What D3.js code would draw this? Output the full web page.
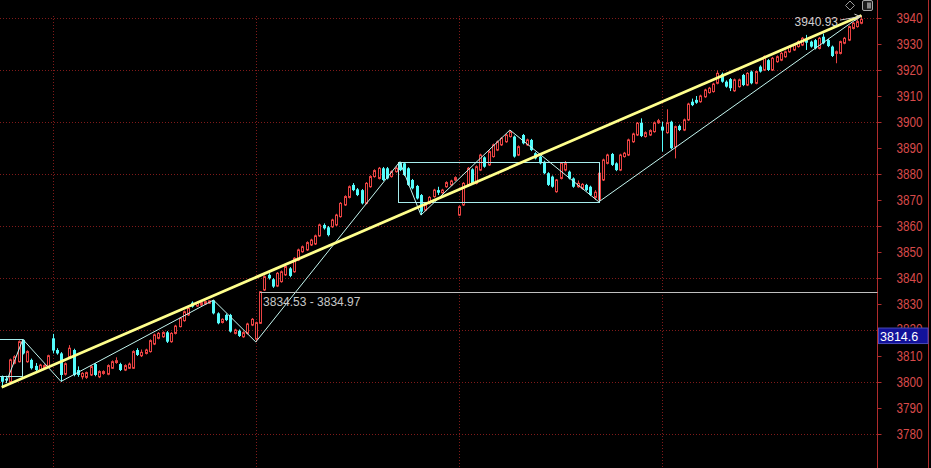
<!DOCTYPE html>
<html>
<head>
<meta charset="utf-8">
<title>K-line 3940.93</title>
<script src="https://cdn.jsdelivr.net/npm/d3@7"></script>
<style>
  html,body {margin:0; padding:0; background:#000;}
  svg {display:block;}
  .ax text {font-family:'Liberation Sans Narrow','Liberation Sans',Arial,sans-serif; font-size:14px; fill:#d84a4a;}
  .lbl {font-family:'Liberation Sans',Arial,sans-serif; font-size:12px;}
</style>
</head>
<body>
<svg id="chart" width="931" height="468"></svg>
<script>
// bars, one entry per candle
const open=[3802.0,3801.2,3800.1,3807.2,3807.8,3816.2,3807.8,3808.5,3806.2,3804.6,
3805.5,3805.9,3816.8,3812.3,3811.0,3803.0,3809.7,3812.3,3804.6,3802.0,
3801.8,3802.7,3806.9,3802.0,3803.3,3803.0,3805.3,3807.5,3806.9,3804.6,
3805.3,3805.3,3812.3,3810.1,3811.0,3811.7,3814.6,3816.8,3817.4,3819.1,
3815.5,3818.7,3821.3,3823.6,3825.8,3830.5,3829.2,3829.6,3830.0,3830.3,
3831.4,3826.4,3822.9,3825.8,3825.8,3818.7,3819.7,3817.4,3818.7,3821.9,
3816.5,3822.6,3835.4,3841.2,3839.5,3836.9,3838.6,3841.2,3843.7,3842.4,
3846.9,3850.1,3850.8,3852.7,3853.1,3856.2,3860.4,3859.5,3859.7,3860.4,
3863.6,3868.1,3871.0,3875.8,3874.1,3873.8,3868.7,3875.1,3879.0,3878.3,
3882.2,3882.2,3879.0,3880.9,3884.4,3884.1,3882.2,3877.7,3875.4,3871.9,
3866.1,3868.7,3871.3,3873.8,3872.8,3875.1,3875.8,3877.7,3864.2,3868.1,
3875.8,3881.8,3876.4,3881.5,3886.4,3883.5,3886.7,3889.2,3891.2,3892.4,
3894.4,3894.4,3887.3,3895.0,3891.2,3893.1,3888.0,3886.7,3884.7,3880.3,
3879.0,3873.2,3878.3,3881.5,3880.9,3878.3,3875.1,3874.5,3875.8,3875.1,
3871.0,3870.0,3877.7,3884.1,3887.7,3884.1,3881.5,3886.7,3887.3,3892.4,
3895.0,3899.7,3894.4,3895.0,3896.3,3899.7,3898.2,3895.9,3900.1,3890.5,
3898.5,3896.9,3900.8,3907.8,3908.5,3907.8,3909.7,3911.3,3911.7,3914.9,
3918.5,3915.5,3916.5,3912.0,3913.6,3918.1,3914.2,3919.4,3914.9,3921.3,
3920.0,3923.8,3920.0,3923.2,3923.8,3925.1,3927.0,3927.7,3929.0,3929.6,
3931.5,3930.9,3931.5,3928.3,3932.8,3931.5,3929.0,3926.4,3926.4,3930.3,
3931.5,3936.0,3936.7,3938.0];
const high=[3802.5,3802.4,3809.0,3810.3,3816.0,3816.4,3812.2,3809.0,3807.3,3807.0,
3806.8,3810.5,3818.5,3813.0,3811.5,3807.5,3814.2,3812.8,3806.0,3803.8,
3804.0,3806.4,3807.3,3804.5,3804.5,3806.8,3808.3,3809.5,3807.4,3806.8,
3807.5,3812.2,3813.0,3812.5,3812.8,3816.4,3818.6,3819.2,3819.5,3819.6,
3819.2,3822.0,3825.0,3827.5,3828.8,3831.0,3831.0,3831.0,3831.3,3831.4,
3831.5,3826.8,3824.5,3826.3,3826.2,3820.5,3820.2,3819.5,3822.8,3824.6,
3823.2,3835.0,3841.0,3841.8,3840.0,3842.3,3842.9,3844.9,3844.2,3848.0,
3851.3,3852.5,3854.1,3855.1,3856.7,3860.9,3861.0,3860.0,3862.8,3864.7,
3869.2,3871.8,3875.6,3876.5,3874.6,3874.2,3876.9,3879.5,3881.8,3882.7,
3882.7,3882.7,3881.4,3883.0,3884.7,3884.5,3882.6,3878.1,3875.8,3872.3,
3868.6,3871.5,3874.3,3875.1,3874.3,3877.2,3877.8,3879.1,3867.9,3876.9,
3882.7,3882.2,3883.3,3887.8,3886.8,3889.1,3891.7,3892.9,3894.2,3895.5,
3896.9,3894.8,3891.0,3895.4,3893.6,3893.5,3888.4,3887.1,3885.1,3880.7,
3879.4,3878.1,3884.6,3885.0,3881.3,3878.7,3877.5,3876.5,3876.2,3875.5,
3873.8,3880.8,3885.9,3887.8,3888.1,3884.5,3887.8,3888.5,3893.6,3895.9,
3900.0,3901.4,3896.4,3897.2,3900.2,3901.2,3900.1,3904.9,3900.5,3898.6,
3899.0,3901.3,3907.4,3909.0,3910.0,3910.5,3912.8,3913.5,3915.1,3919.8,
3919.0,3916.0,3916.9,3916.7,3916.7,3918.5,3919.2,3919.8,3919.8,3921.8,
3925.6,3924.2,3925.0,3925.6,3926.9,3927.5,3929.5,3930.1,3931.4,3932.7,
3933.5,3931.3,3931.9,3932.7,3934.0,3932.0,3929.4,3927.5,3931.3,3932.7,
3937.1,3938.4,3939.5,3940.93];
const low=[3798.0,3799.6,3799.8,3806.8,3807.5,3810.6,3807.4,3804.8,3803.5,3804.2,
3805.0,3805.5,3811.0,3810.5,3800.2,3802.5,3809.3,3802.2,3802.0,3801.0,
3801.2,3802.3,3802.2,3801.5,3802.8,3802.6,3805.0,3807.0,3804.2,3804.2,
3805.0,3805.0,3810.0,3809.6,3810.6,3811.3,3814.2,3816.4,3817.0,3815.0,
3815.1,3818.3,3821.0,3823.2,3825.4,3828.6,3828.8,3829.2,3829.6,3830.0,
3826.0,3822.2,3822.5,3823.4,3819.0,3818.3,3817.3,3817.0,3818.3,3821.5,
3815.4,3822.3,3835.0,3839.4,3836.2,3836.5,3838.2,3840.8,3840.3,3842.0,
3846.5,3849.7,3850.4,3852.3,3852.7,3855.8,3858.6,3856.0,3859.3,3860.0,
3863.2,3867.7,3870.6,3873.4,3871.5,3868.3,3868.3,3874.7,3878.6,3877.9,
3877.3,3877.9,3878.6,3880.5,3881.1,3879.2,3875.4,3874.1,3870.2,3864.2,
3865.7,3868.3,3870.9,3871.9,3872.4,3874.7,3875.4,3877.3,3863.8,3867.7,
3875.4,3876.0,3876.0,3881.1,3882.4,3883.1,3886.3,3888.8,3890.8,3892.0,
3894.0,3886.3,3886.9,3891.4,3890.8,3888.8,3885.6,3883.7,3879.9,3875.4,
3874.7,3872.8,3877.9,3881.0,3877.9,3874.7,3874.7,3874.0,3873.4,3871.5,
3870.0,3869.3,3877.3,3883.7,3883.1,3881.1,3881.1,3886.3,3886.9,3892.0,
3894.6,3894.2,3894.0,3894.6,3895.9,3899.3,3888.6,3895.5,3889.5,3886.0,
3896.5,3896.5,3900.4,3906.1,3907.0,3907.4,3909.3,3910.9,3911.3,3914.5,
3915.1,3913.2,3911.9,3911.6,3913.2,3913.8,3913.8,3914.5,3914.5,3919.0,
3919.6,3919.6,3919.6,3922.8,3923.4,3924.7,3926.6,3927.3,3928.6,3929.2,
3927.7,3928.6,3927.9,3927.9,3929.9,3928.8,3925.0,3922.6,3926.0,3929.9,
3931.1,3935.6,3936.3,3937.6];
const close=[3800.1,3800.6,3808.5,3809.7,3815.5,3811.0,3811.7,3805.3,3804.6,3806.5,
3806.3,3810.1,3812.1,3811.0,3802.7,3807.0,3813.0,3802.7,3802.7,3803.3,
3803.6,3805.9,3802.7,3804.0,3804.0,3806.3,3807.8,3808.2,3804.6,3806.3,
3806.9,3811.7,3810.4,3811.4,3812.3,3815.9,3818.1,3818.7,3819.0,3815.5,
3818.7,3821.5,3824.5,3827.0,3828.3,3829.0,3830.5,3830.5,3830.9,3831.2,
3826.4,3822.6,3824.1,3823.8,3819.4,3820.0,3817.7,3819.0,3822.3,3824.1,
3822.8,3834.7,3840.5,3839.9,3836.7,3841.8,3842.4,3844.4,3840.8,3847.6,
3850.8,3852.0,3853.6,3854.6,3856.2,3860.4,3859.1,3856.5,3862.3,3864.2,
3868.7,3871.3,3875.1,3873.8,3871.9,3868.7,3876.4,3879.0,3881.3,3882.2,
3877.7,3878.3,3880.9,3882.2,3881.5,3879.6,3875.8,3874.5,3870.6,3865.5,
3868.1,3871.0,3873.8,3872.8,3873.8,3876.7,3877.3,3878.6,3867.4,3876.4,
3882.2,3876.4,3882.8,3887.3,3882.8,3888.6,3891.2,3892.4,3893.7,3895.0,
3896.3,3886.7,3890.5,3891.8,3893.1,3889.2,3886.0,3884.1,3880.3,3875.8,
3875.1,3877.7,3884.1,3884.0,3878.3,3875.1,3876.4,3876.0,3873.8,3871.9,
3873.0,3880.3,3885.4,3887.3,3883.5,3881.5,3887.3,3888.0,3893.1,3895.4,
3899.5,3894.6,3895.9,3896.7,3899.7,3900.5,3896.7,3899.7,3889.9,3898.2,
3896.9,3900.8,3906.9,3906.5,3907.4,3910.0,3912.3,3913.0,3914.6,3918.7,
3915.5,3913.6,3913.0,3916.2,3916.2,3914.2,3918.7,3914.9,3919.4,3919.4,
3925.1,3920.0,3924.5,3925.1,3926.4,3927.0,3929.0,3929.6,3930.9,3932.2,
3930.5,3929.0,3928.3,3932.2,3930.3,3929.2,3925.4,3927.0,3930.9,3932.2,
3936.7,3938.0,3938.6,3939.5];

// drawings on the chart: [bar, price]
const zigzag=[[1,3799.6],[5,3816.4],[14,3800.2],[50,3831.5],[60,3815.4],
              [94,3884.7],[99,3864.2],[120,3896.9],[141,3869.3],[203,3940.93]];
const trend=[[0,3798.0],[203,3940.93]];
// boxes: [bar from, bar to, top, bottom]
const boxes=[[-1,4.7,3816.4,3802.4],[93.6,141,3884.7,3869.3]];
const level={bar:61, lo:3834.53, hi:3834.97};
const peakLabel={bar:203, value:3940.93};
const priceTag=3814.6;

const yTicks=[3780,3790,3800,3810,3820,3830,3840,3850,3860,3870,3880,3890,3900,3910,3920,3930,3940];
const gridY=[3780,3800,3820,3840,3860,3880,3900,3920,3940];
const gridBars=[12,60,108,156];

const RED='#ea4343', CYAN='#54fcfc', GRID='#801a1a';
const svg=d3.select('#chart');
const W=931, H=468, axisX=877.5;
const N=close.length;
const x=d3.scaleLinear().domain([0,N-1]).range([1.7,861.4]);
const y=d3.scaleLinear().domain([3780,3940]).range([434,18]);
const px=i=>Math.round(x(i));

svg.append('rect').attr('width',W).attr('height',H).attr('fill','#000');

// dotted grid
svg.append('g').selectAll('line').data(gridY).join('line')
   .attr('x1',0).attr('x2',axisX)
   .attr('y1',d=>Math.round(y(d))+.5).attr('y2',d=>Math.round(y(d))+.5)
   .attr('stroke',GRID).attr('stroke-dasharray','1,2');
svg.append('g').selectAll('line').data(gridBars).join('line')
   .attr('x1',d=>px(d)+.5).attr('x2',d=>px(d)+.5)
   .attr('y1',16).attr('y2',H)
   .attr('stroke',GRID).attr('stroke-dasharray','1,2');

// right price axis
const ty=y(priceTag), tagTop=ty-16;
svg.append('clipPath').attr('id','tagclip')
   .append('rect').attr('x',0).attr('y',0).attr('width',W).attr('height',tagTop);
const ax=svg.append('g').attr('class','ax')
   .attr('transform',`translate(${axisX},0)`)
   .call(d3.axisRight(y).tickValues(yTicks).tickSize(4).tickPadding(15).tickFormat(d3.format('d')));
ax.select('.domain').remove();
ax.selectAll('line').attr('stroke','#b02c2c');
ax.selectAll('text').attr('textLength',26).attr('lengthAdjust','spacingAndGlyphs');
// the label sitting under the price tag only shows its top, as in the source
ax.selectAll('.tick').filter(d=>y(d)>tagTop && y(d)<ty)
  .each(function(d){
    d3.select(this).select('text').remove();
    svg.append('g').attr('clip-path','url(#tagclip)').append('text')
       .attr('x',axisX+19).attr('y',y(d)).attr('dy','0.32em')
       .attr('textLength',26).attr('lengthAdjust','spacingAndGlyphs')
       .style('font-family',"'Liberation Sans Narrow','Liberation Sans',Arial,sans-serif")
       .style('font-size','14px').attr('fill','#d84a4a').text(d);
  });
svg.append('line').attr('x1',axisX).attr('x2',axisX).attr('y1',0).attr('y2',H)
   .attr('stroke','#b02c2c');
svg.append('line').attr('x1',928.5).attr('x2',928.5).attr('y1',0).attr('y2',H)
   .attr('stroke','#b02c2c');

// candles
const bars=d3.range(N).map(i=>({i,o:open[i],h:high[i],l:low[i],c:close[i]}));
const cg=svg.append('g');
cg.selectAll('line').data(bars).join('line')
  .attr('x1',d=>px(d.i)+.5).attr('x2',d=>px(d.i)+.5)
  .attr('y1',d=>y(d.h)).attr('y2',d=>y(d.l))
  .attr('stroke',d=>d.c>=d.o?RED:CYAN);
cg.selectAll('rect').data(bars).join('rect')
  .attr('x',d=>d.c>=d.o?px(d.i)-.5:px(d.i)-1)
  .attr('width',d=>d.c>=d.o?2:3)
  .attr('y',d=>y(Math.max(d.o,d.c)))
  .attr('height',d=>Math.max(1,Math.abs(y(d.o)-y(d.c))))
  .attr('fill',d=>d.c>=d.o?'#000':CYAN)
  .attr('stroke',d=>d.c>=d.o?RED:'none');

// boxes and zigzag
svg.append('g').selectAll('rect').data(boxes).join('rect')
   .attr('x',d=>Math.round(x(d[0]))+.5).attr('y',d=>Math.round(y(d[2]))+.5)
   .attr('width',d=>Math.round(x(d[1]))-Math.round(x(d[0])))
   .attr('height',d=>Math.round(y(d[3]))-Math.round(y(d[2])))
   .attr('fill','none').attr('stroke','#a6ecec');
const line=d3.line().x(d=>x(d[0])).y(d=>y(d[1]));
svg.append('path').datum(zigzag).attr('d',line)
   .attr('fill','none').attr('stroke','#c4f6f0').attr('stroke-width',1);

// support level
const ly=Math.round(y((level.lo+level.hi)/2))+.5;
svg.append('line').attr('x1',x(level.bar)).attr('x2',axisX).attr('y1',ly).attr('y2',ly)
   .attr('stroke','#c0c0c0');
svg.append('text').attr('class','lbl').attr('x',x(level.bar)+3).attr('y',ly+13.5)
   .attr('fill','#c8c8c8').text(`${level.lo} - ${level.hi}`);

// trend line
svg.append('path').datum(trend).attr('d',line)
   .attr('fill','none').attr('stroke','#ffff8c').attr('stroke-width',2.8);

// peak label with arrow
const pkx=x(peakLabel.bar), pky=y(peakLabel.value);
svg.append('text').attr('class','lbl').attr('x',838).attr('y',pky+10.5)
   .attr('text-anchor','end').attr('fill','#d0d0d0').text(peakLabel.value.toFixed(2));
svg.append('line').attr('x1',840).attr('y1',pky+4.5).attr('x2',pkx-1).attr('y2',pky+1)
   .attr('stroke','#d0d0d0');
svg.append('path').attr('d',`M${pkx-7},${pky-1.5}L${pkx-1},${pky+1}L${pkx-6},${pky+5}`)
   .attr('fill','none').attr('stroke','#d0d0d0');

// price tag on axis
svg.append('rect').attr('x',878.5).attr('y',tagTop).attr('width',49.5).attr('height',15.5)
   .attr('fill','#12129a').attr('stroke','#4a4ab8');
svg.append('text').attr('class','lbl').attr('x',880).attr('y',ty-3.5)
   .attr('fill','#fff').style('font-size','12.5px').text(priceTag.toFixed(1));

// toolbar glyphs
svg.append('path').attr('d','M850,1L854.5,5.5L850,10L845.5,5.5Z')
   .attr('fill','none').attr('stroke','#9a9a9a');
svg.append('rect').attr('x',862.5).attr('y',0.5).attr('width',10).attr('height',10).attr('rx',1.5)
   .attr('fill','#1c1c1c').attr('stroke','#a8a8a8');
svg.append('rect').attr('x',867).attr('y',2.5).attr('width',4).attr('height',6).attr('fill','#8a8a8a');
</script>
</body>
</html>
